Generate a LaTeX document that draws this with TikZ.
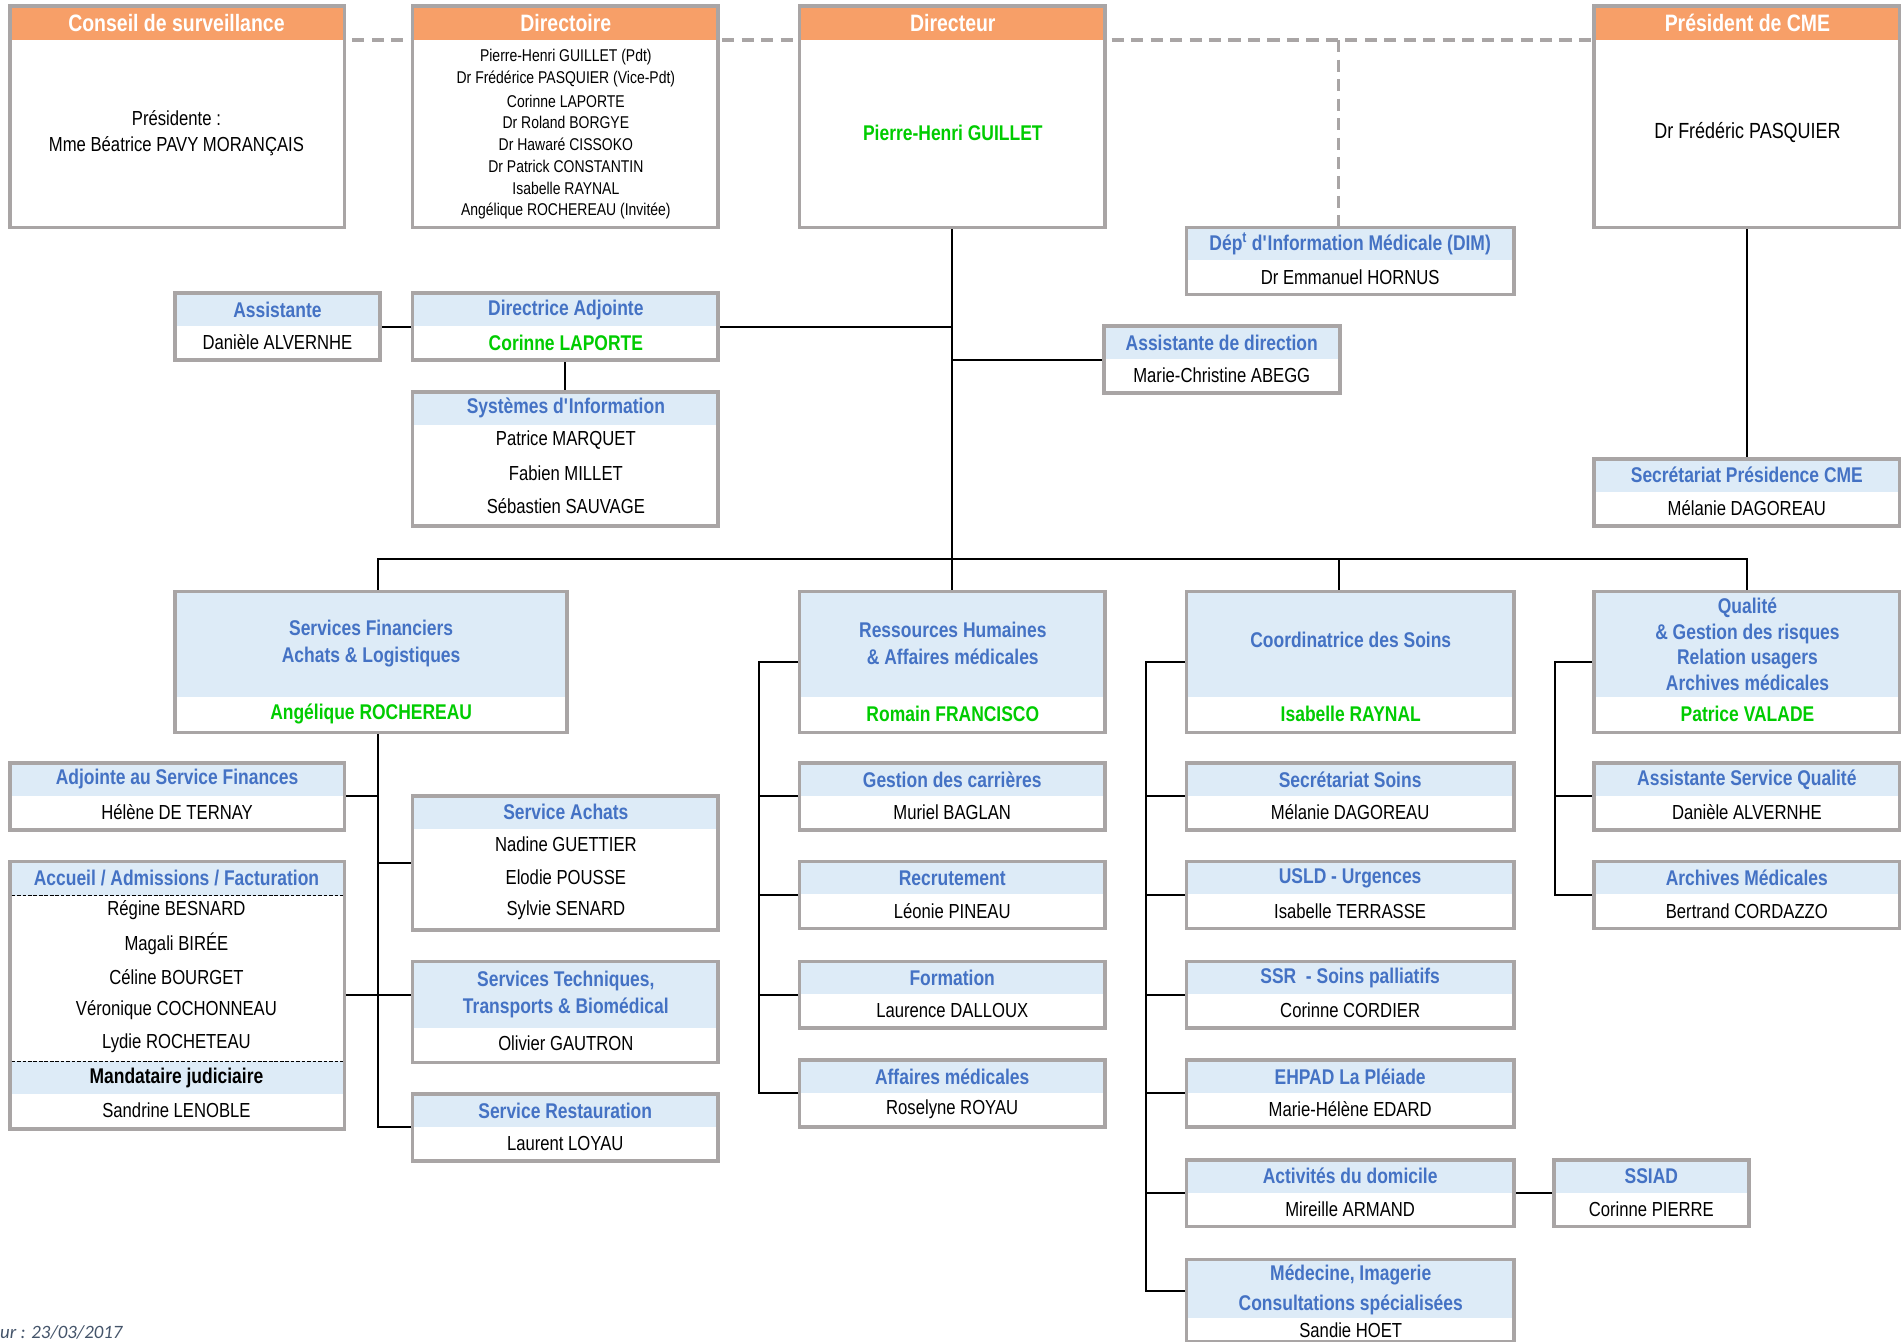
\documentclass[tikz,border=0pt]{standalone}
\usepackage{fontspec}
\setmainfont[FakeStretch=0.82]{Liberation Sans}
\newfontfamily\datefont{Carlito}
\usetikzlibrary{fit,backgrounds}

\definecolor{hdorange}{HTML}{F79F68}
\definecolor{frgray}{HTML}{A9A5A5}
\definecolor{hdblue}{HTML}{DDEBF7}
\definecolor{ttblue}{HTML}{4472C4}
\definecolor{nmgreen}{HTML}{00CC00}
\definecolor{dategray}{HTML}{44546A}

\tikzset{
    head/.style 2 args={path picture={\fill[#2] (path picture bounding box.north west) rectangle ([yshift=-#1]path picture bounding box.north east);}},
}

\begin{document}
\begin{tikzpicture}[x=1pt, y=-1pt]
    \tikzstyle{frame} = [draw=frgray, line width=3pt, fill=white, rectangle, inner sep=0pt]
    \tikzstyle{txt} = [inner sep=0pt, font=\fontsize{16.7}{21}\selectfont]
    \tikzstyle{ttl} = [inner sep=0pt, text=ttblue, align=center, font=\fontsize{17.5}{21}\selectfont\bfseries]
    \tikzstyle{grn} = [inner sep=0pt, text=nmgreen, font=\fontsize{17.5}{21}\selectfont\bfseries]
    \tikzstyle{otl} = [inner sep=0pt, text=white, font=\fontsize{19.5}{23}\selectfont\bfseries]
    \tikzstyle{dlist} = [inner sep=0pt, font=\fontsize{14}{18}\selectfont]
    \tikzstyle{link} = [black, line width=1.6pt]
    \tikzstyle{dashlink} = [frgray, line width=3pt, dash pattern=on 10pt off 6pt]
    \useasboundingbox (0,0) rectangle (1563,1102);

    % top row
    \node[frame, head={28pt}{hdorange}, fit={(8,5) (283,187)}] (cons) {};
    \node[otl] (cons-t) at (145,19) {Conseil de surveillance};
    \node[txt, align=center] (cons-p) at (145,109.5) {Présidente :\\Mme Béatrice PAVY MORANÇAIS};
    \node[frame, head={28pt}{hdorange}, fit={(339,5) (590,187)}] (dirc) {};
    \node[otl] (dirc-t) at (465,19) {Directoire};
    \foreach \p [count=\i] in {Pierre-Henri GUILLET (Pdt), Dr Frédérice PASQUIER (Vice-Pdt), Corinne LAPORTE, Dr Roland BORGYE, Dr Hawaré CISSOKO, Dr Patrick CONSTANTIN, Isabelle RAYNAL, Angélique ROCHEREAU (Invitée)} {
        \node[dlist] (dirc-\i) at (465, 29+18*\i) {\p};
    }
    \node[frame, head={28pt}{hdorange}, fit={(657,5) (908,187)}] (dirg) {};
    \node[otl] (dirg-t) at (783,19) {Directeur};
    \node[grn] (dirg-n) at (783,109) {Pierre-Henri GUILLET};
    \node[frame, head={28pt}{hdorange}, fit={(1310,5) (1561,187)}] (cme) {};
    \node[otl] (cme-t) at (1436,19) {Président de CME};
    \node[txt, font=\fontsize{18}{21}\selectfont] (cme-n) at (1436,109) {Dr Frédéric PASQUIER};

    % boxes with one title and one name
    \foreach \n/\l/\t/\r/\h/\p in {
        dim/975/187/1244/Dép\textsuperscript{t} d\textquotesingle Information Médicale (DIM)/Dr Emmanuel HORNUS,
        asst/144/241/312/Assistante/Danièle ALVERNHE,
        adir/907/268/1101/Assistante de direction/Marie-Christine ABEGG,
        scme/1310/377/1561/Secrétariat Présidence CME/Mélanie DAGOREAU,
        adjf/8/627/283/Adjointe au Service Finances/Hélène DE TERNAY,
        rest/339/899/590/Service Restauration/Laurent LOYAU,
        gc/657/627/908/Gestion des carrières/Muriel BAGLAN,
        rec/657/708/908/Recrutement/Léonie PINEAU,
        form/657/790/908/Formation/Laurence DALLOUX,
        am/657/871/908/Affaires médicales/Roselyne ROYAU,
        ssec/975/627/1244/Secrétariat Soins/Mélanie DAGOREAU,
        usld/975/708/1244/USLD - Urgences/Isabelle TERRASSE,
        ssr/975/790/1244/SSR \ - Soins palliatifs/Corinne CORDIER,
        ehpad/975/871/1244/EHPAD La Pléiade/Marie-Hélène EDARD,
        dom/975/953/1244/Activités du domicile/Mireille ARMAND,
        ssiad/1277/953/1437/SSIAD/Corinne PIERRE,
        aqual/1310/627/1561/Assistante Service Qualité/Danièle ALVERNHE,
        arch/1310/708/1561/Archives Médicales/Bertrand CORDAZZO} {
        \node[frame, head={27pt}{hdblue}, fit={(\l,\t) (\r,{\t+55})}] (\n) {};
        \node[ttl] (\n-t) at ({(\l+\r)/2}, {\t+13.5}) {\h};
        \node[txt] (\n-n) at ({(\l+\r)/2}, {\t+40.5}) {\p};
    }

    % direction adjointe
    \node[frame, head={27pt}{hdblue}, fit={(339,241) (590,296)}] (dadj) {};
    \node[ttl] (dadj-t) at (465,254.5) {Directrice Adjointe};
    \node[grn] (dadj-n) at (465,281.5) {Corinne LAPORTE};
    \node[frame, head={27pt}{hdblue}, fit={(339,322) (590,432)}] (si) {};
    \node[ttl] (si-t) at (465,335.5) {Systèmes d\textquotesingle Information};
    \foreach \p [count=\i] in {Patrice MARQUET, Fabien MILLET, Sébastien SAUVAGE} {
        \node[txt] (si-\i) at (465, 335+27*\i) {\p};
    }

    % poles
    \node[frame, head={87pt}{hdblue}, fit={(144,486) (466,602)}] (sfin) {};
    \node[ttl] (sfin-t) at (305,529) {Services Financiers\\[1pt]Achats \& Logistiques};
    \node[grn] (sfin-n) at (305,587) {Angélique ROCHEREAU};
    \node[frame, head={87pt}{hdblue}, fit={(657,486) (908,602)}] (rh) {};
    \node[ttl] (rh-t) at (783,529) {Ressources Humaines\\[1pt]\& Affaires médicales};
    \node[grn] (rh-n) at (783,587) {Romain FRANCISCO};
    \node[frame, head={87pt}{hdblue}, fit={(975,486) (1244,602)}] (coord) {};
    \node[ttl] (coord-t) at (1110,526) {Coordinatrice des Soins};
    \node[grn] (coord-n) at (1110,587) {Isabelle RAYNAL};
    \node[frame, head={87pt}{hdblue}, fit={(1310,486) (1561,602)}] (qual) {};
    \node[ttl] (qual-t) at (1436,529.5) {Qualité\\\& Gestion des risques\\Relation usagers\\Archives médicales};
    \node[grn] (qual-n) at (1436,587) {Patrice VALADE};

    % services financiers
    \node[frame, head={27pt}{hdblue}, fit={(339,654) (590,764)}] (ach) {};
    \node[ttl] (ach-t) at (465,667.5) {Service Achats};
    \foreach \p [count=\i] in {Nadine GUETTIER, Elodie POUSSE, Sylvie SENARD} {
        \node[txt] (ach-\i) at (465, 667+27*\i) {\p};
    }
    \node[frame, head={28pt}{hdblue}, fit={(8,708) (283,928)}] (acc) {};
    \fill[hdblue] (9.5,872) rectangle (281.5,899);
    \draw[black, line width=0.8pt, dash pattern=on 3pt off 1.5pt] (9.5,736) -- (281.5,736);
    \draw[black, line width=0.8pt, dash pattern=on 3pt off 1.5pt] (9.5,872) -- (281.5,872);
    \node[ttl] (acc-t) at (145,721.5) {Accueil / Admissions / Facturation};
    \foreach \p [count=\i] in {Régine BESNARD, Magali BIRÉE, Céline BOURGET, Véronique COCHONNEAU, Lydie ROCHETEAU} {
        \node[txt] (acc-\i) at (145, 721+27.25*\i) {\p};
    }
    \node[ttl, text=black] (acc-m) at (145,885.5) {Mandataire judiciaire};
    \node[txt] (acc-n) at (145,912) {Sandrine LENOBLE};
    \node[frame, head={55pt}{hdblue}, fit={(339,790) (590,873)}] (stech) {};
    \node[ttl] (stech-t) at (465,817) {Services Techniques,\\[1pt]Transports \& Biomédical};
    \node[txt] (stech-n) at (465,857) {Olivier GAUTRON};

    % soins
    \node[frame, head={48pt}{hdblue}, fit={(975,1035) (1244,1103)}] (med) {};
    \node[ttl] (med-t) at (1110,1060) {Médecine, Imagerie\\[3pt]Consultations spécialisées};
    \node[txt] (med-n) at (1110,1093.5) {Sandie HOET};

    \node[inner sep=0pt, anchor=west, text=dategray, font=\datefont\itshape\fontsize{15.5}{18}\selectfont] (maj) at (0,1095) {ur : 23/03/2017};

    % connectors
    \coordinate (dtap) at (1100,33);
    \coordinate (bus) at (783,459);
    \coordinate (fsp) at (311,459);
    \coordinate (csp) at (1100,459);
    \coordinate (rsp) at (624,0);
    \coordinate (ssp) at (942,0);
    \coordinate (qsp) at (1278,0);
    \begin{pgfonlayer}{background}
        \draw[dashlink] (cons.center |- dtap) -- (cme.center |- dtap);
        \draw[dashlink] (dtap) -- (dtap |- dim.north);
        \draw[link] (dirg.south) -- (rh.north);
        \draw[link] (asst.east) -- (dadj.west);
        \draw[link] (dadj.east) -- (dadj.east -| dirg.south);
        \draw[link] (dadj.south) -- (si.north);
        \draw[link] (adir.west) -- (adir.west -| dirg.south);
        \draw[link] (cme.south) -- (scme.north);
        \draw[link] (fsp |- sfin.north) |- (qual.north |- bus) -- (qual.north);
        \draw[link] (csp) -- (csp |- coord.north);
        \draw[link] (fsp |- sfin.south) |- (rest.west);
        \draw[link] (adjf.east) -- (adjf.east -| fsp);
        \draw[link] (ach.west) -- (ach.west -| fsp);
        \draw[link] (acc.east) -- (acc.east -| stech.west);
        \draw[link] (rh.west) -- (rh.west -| rsp) |- (am.west);
        \foreach \b in {gc, rec, form} {
            \draw[link] (\b.west) -- (\b.west -| rsp);
        }
        \draw[link] (coord.west) -- (coord.west -| ssp) |- ([yshift=8pt]med.west);
        \foreach \b in {ssec, usld, ssr, ehpad, dom} {
            \draw[link] (\b.west) -- (\b.west -| ssp);
        }
        \draw[link] (dom.east) -- (ssiad.west);
        \draw[link] (qual.west) -- (qual.west -| qsp) |- (arch.west);
        \draw[link] (aqual.west) -- (aqual.west -| qsp);
    \end{pgfonlayer}
\end{tikzpicture}
\end{document}
